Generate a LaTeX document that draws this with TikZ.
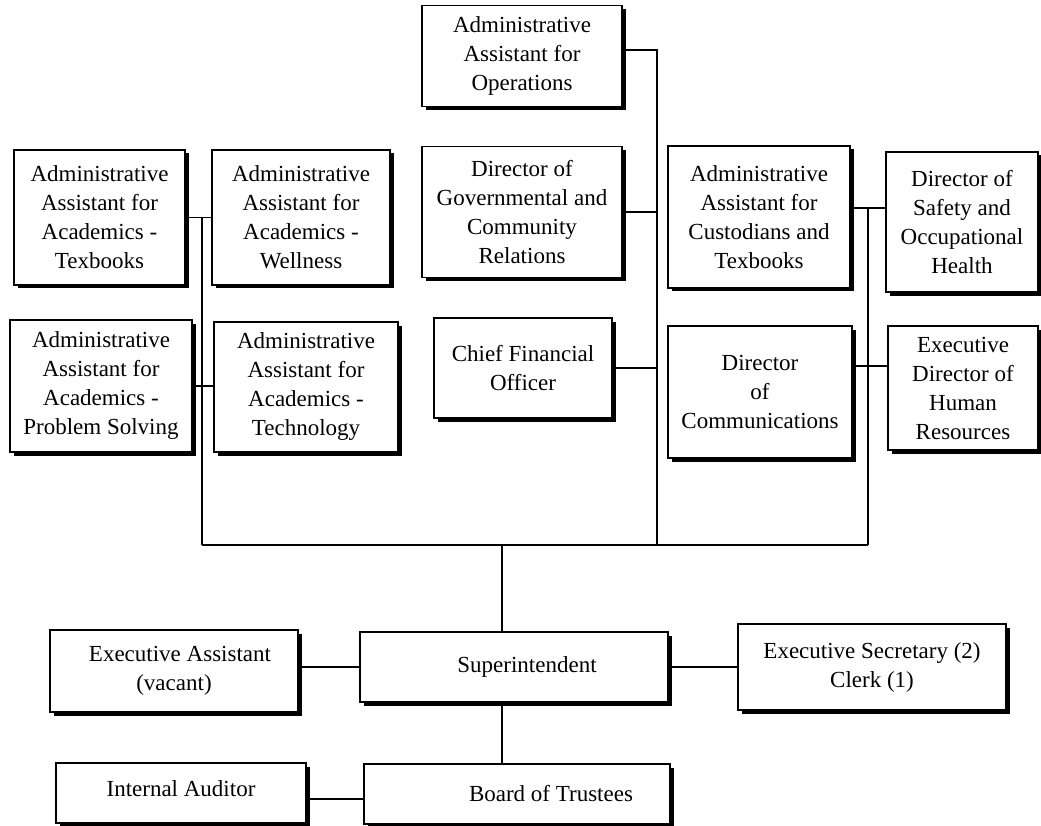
\documentclass[tikz,border=0pt]{standalone}
\usepackage{fontspec}
\setmainfont{Liberation Serif}
\usetikzlibrary{shadows}

\begin{document}
\begin{tikzpicture}[x=1pt, y=-1pt,
      post/.style={rectangle, draw, line width=1.6pt, fill=white,
                   inner sep=0pt, align=center,
                   font=\fontsize{23}{29}\selectfont,
                   drop shadow={shadow xshift=3.5pt, shadow yshift=-3.5pt,
                                fill=black, opacity=1}},
      link/.style={line width=1.6pt}
    ]
    \useasboundingbox (0,0) rectangle (1041,826);

    % upper middle column
    \node[post, minimum width=200, minimum height=101] (ops)  at (522,56)  {Administrative\\Assistant for\\Operations};
    \node[post, minimum width=200, minimum height=131] (gov)  at (522,212) {Director of\\Governmental and\\Community\\Relations};
    \node[post, minimum width=178, minimum height=100] (cfo)  at (523,368) {Chief Financial\\Officer};

    % academics group
    \node[post, minimum width=171, minimum height=135] (tb)   at (99.5,217.5) {Administrative\\Assistant for\\Academics -\\Texbooks};
    \node[post, minimum width=178, minimum height=135] (well) at (301,217.5)  {Administrative\\Assistant for\\Academics -\\Wellness};
    \node[post, minimum width=182, minimum height=132] (ps)   at (101,386)    {Administrative\\Assistant for\\Academics -\\Problem Solving};
    \node[post, minimum width=184, minimum height=130] (tech) at (306,387)    {Administrative\\Assistant for\\Academics -\\Technology};

    % right group
    \node[post, minimum width=182, minimum height=142] (cust) at (759,217) {Administrative\\Assistant for\\Custodians and\\Texbooks};
    \node[post, minimum width=152, minimum height=140] (safe) at (962,222) {Director of\\Safety and\\Occupational\\Health};
    \node[post, minimum width=184, minimum height=132] (comm) at (760,392) {Director\\of\\Communications};
    \node[post, minimum width=150, minimum height=124] (hr)   at (963,388) {Executive\\Director of\\Human\\Resources};

    % lower part
    \node[post, minimum width=308, minimum height=70] (supt)  at (514,667)   {\hspace*{26pt}Superintendent};
    \node[post, minimum width=248, minimum height=82] (ea)    at (174,671)   {\hspace*{12pt}Executive Assistant\\(vacant)};
    \node[post, minimum width=268, minimum height=86] (sec)   at (872,667)   {Executive Secretary (2)\\Clerk (1)};
    \node[post, minimum width=250, minimum height=60] (ia)    at (181,793)   {\raisebox{8pt}{Internal Auditor}};
    \node[post, minimum width=306, minimum height=60] (board) at (517,794)   {\hspace*{68pt}Board of Trustees};

    % bus junctions
    \coordinate (jl) at (202,545);
    \coordinate (jm) at (657,545);
    \coordinate (jr) at (868,545);
    \coordinate (js) at (502,545);
    \coordinate (opsx)  at ([yshift=6pt]ops.east);
    \coordinate (custx) at ([yshift=9pt]cust.east);
    \coordinate (commx) at ([yshift=26pt]comm.east);
    \coordinate (iax)   at ([yshift=-6pt]ia.east);

    \draw[link] (jl) -- (jr);
    \draw[link] (jl) -- (jl |- tb.east);
    \draw[link] (tb.east) -- (well.west);
    \draw[link] (ps.east) -- (ps.east -| tech.west);

    \draw[link] (jm) -- (jm |- opsx) -- (opsx);
    \draw[link] (gov.east) -- (gov.east -| jm);
    \draw[link] (cfo.east) -- (cfo.east -| jm);

    \draw[link] (jr) -- (jr |- custx);
    \draw[link] (custx) -- (custx -| safe.west);
    \draw[link] (commx) -- (commx -| hr.west);

    \draw[link] (js) -- (js |- supt.north);
    \draw[link] (supt.west) -- (supt.west -| ea.east);
    \draw[link] (supt.east) -- (supt.east -| sec.west);
    \draw[link] (js |- supt.south) -- (js |- board.north);
    \draw[link] (iax) -- (iax -| board.west);
  \end{tikzpicture}
\end{document}
